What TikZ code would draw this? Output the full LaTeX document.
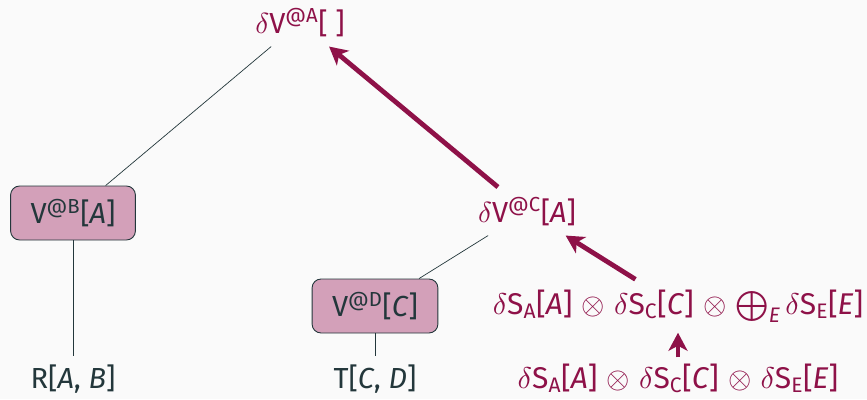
\documentclass[tikz,border=0pt]{standalone}
\usepackage{amsmath}
\usepackage{fontspec}
\setmainfont{Fira Sans}
\usetikzlibrary{arrows.meta}

% scalable Computer Modern math fonts for the large picture text
\DeclareFontShape{OML}{cmm}{m}{it}{<->cmmi10}{}
\DeclareFontShape{OMS}{cmsy}{m}{n}{<->cmsy10}{}
\DeclareFontShape{OMX}{cmex}{m}{n}{<->cmex10}{}

\definecolor{bgcol}{RGB}{250,250,250}
\definecolor{inkdark}{RGB}{35,55,59}
\definecolor{deltared}{RGB}{142,17,72}
\definecolor{boxfill}{RGB}{211,160,185}

\newcommand\br[1]{\text{[\textit{#1}]}}
\newcommand\exprspacing{\medmuskip=5.5mu plus 2mu minus 2mu\relax}

\tikzset{
  lbl/.style={font=\fontsize{29}{34}\selectfont, text=inkdark, inner sep=8pt, anchor=base},
  dlbl/.style={lbl, text=deltared, inner sep=10pt},
  exprlbl/.style={dlbl, font=\fontsize{30}{35}\selectfont\exprspacing},
  viewbox/.style={lbl, draw=inkdark, line width=0.9pt, fill=boxfill, rounded corners=9pt,
                  minimum height=54pt, inner xsep=20pt, inner ysep=4pt, anchor=center},
  treeedge/.style={draw=inkdark, line width=0.7pt},
  deltaflow/.style={draw=deltared, line width=4.8pt,
                    -{Stealth[length=18pt, width=19pt, inset=5pt]}},
}

\begin{document}
\begin{tikzpicture}[x=1pt, y=-1pt]
  \fill[bgcol] (0,0) rectangle (867,399);
  \useasboundingbox (0,0) rectangle (867,399);

  % tree of views
  \node[dlbl] (va) at (300,33) {$\delta$V$^{\text{@A}}$[\ ]};
  \node[viewbox] (vb) at (73,213) {V$^{\text{@B}}$[\textit{A}]};
  \node[dlbl] (vc) at (527,222) {$\delta$V$^{\text{@C}}$[\textit{A}]};
  \node[viewbox] (vd) at (375,306) {V$^{\text{@D}}$[\textit{C}]};
  \node[lbl] (rr) at (73,388) {R[\textit{A}, \textit{B}]};
  \node[lbl] (tt) at (375,388) {T[\textit{C}, \textit{D}]};

  % delta expressions
  \node[exprlbl] (sum) at (678,314)
    {$\delta\text{S}_{\text{A}}\br{A}\otimes\delta\text{S}_{\text{C}}\br{C}\otimes
      \bigoplus_{\textit{E}}\delta\text{S}_{\text{E}}\br{E}$};
  \node[exprlbl, inner sep=6pt] (prod) at (678,388)
    {$\delta\text{S}_{\text{A}}\br{A}\otimes\delta\text{S}_{\text{C}}\br{C}\otimes
      \delta\text{S}_{\text{E}}\br{E}$};

  % tree edges
  \draw[treeedge] (va) -- (vb);
  \draw[treeedge] (vc) -- (vd);
  \draw[treeedge] (vb) -- (rr);
  \draw[treeedge] (vd) -- (tt);

  % delta propagation
  \draw[deltaflow] (prod) -- (sum);
  \draw[deltaflow] (sum) -- (vc);
  \draw[deltaflow] (vc) -- (va);
\end{tikzpicture}
\end{document}
